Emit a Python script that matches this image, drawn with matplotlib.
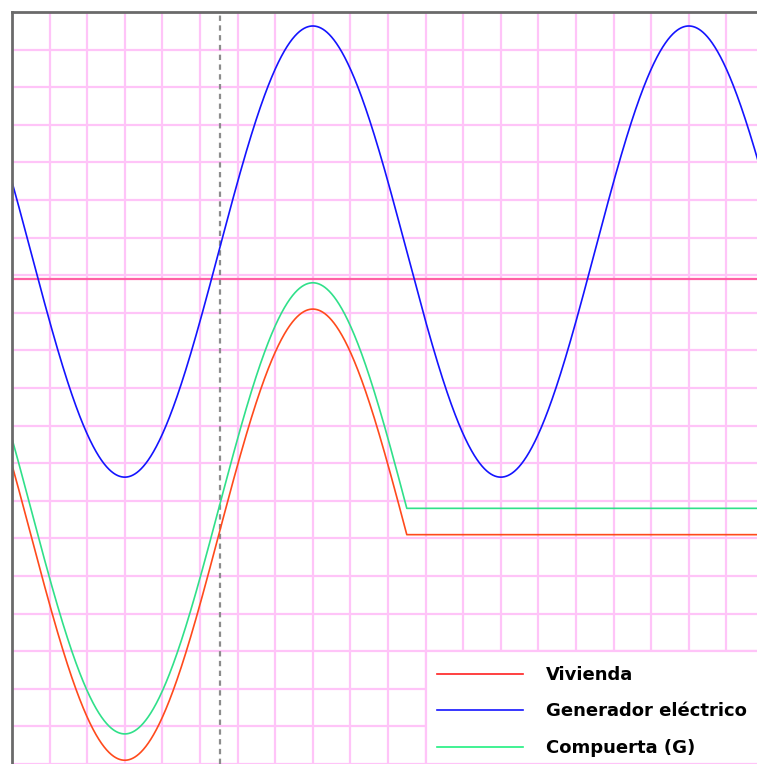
import numpy as np
import matplotlib.pyplot as plt
from matplotlib.patches import Rectangle
from matplotlib.lines import Line2D

# time base: 2 ms per division, 20 divisions
t_max_ms = 40
periodo_ms = 20.0          # 50 Hz
pico_ms = 16.0             # time of generator peak
corte_ms = 21.0            # gate/house signal held after this
cursor_ms = 11.05          # dashed cursor

# signals (vertical divisions)
series = ['Vivienda', 'Generador eléctrico', 'Compuerta (G)']
amplitudes = [6.0, 6.0, 6.0]
offsets = [-6.8, 0.73, -6.1]
held = [True, False, True]
colors = ['#ff4a1c', '#1414ff', '#30e08a']
legend_colors = ['#ff2020', '#1414ff', '#20f080']

y_bottom, y_top = -12.9, 7.11

W, H = 757, 764
fig = plt.figure(figsize=(W / 100, H / 100), dpi=100)
ax = fig.add_axes([12 / W, 0, 752 / W, 752.3 / H])

t = np.linspace(0, t_max_ms, 4001)
for amp, off, hold, col in zip(amplitudes, offsets, held, colors):
    y = off + amp * np.cos(2 * np.pi * (t - pico_ms) / periodo_ms)
    if hold:
        y = np.where(t > corte_ms, off, y)
    ax.plot(t, y, color=col, lw=1.2, zorder=3)

ax.set_xlim(0, t_max_ms)
ax.set_ylim(y_bottom, y_top)
ax.set_xticks(np.arange(0, t_max_ms + 1, 2))
ax.set_yticks(np.arange(y_bottom, y_top + 0.05, 1.0))
ax.tick_params(length=0, labelbottom=False, labelleft=False)
ax.grid(True, color='#ffc4f8', lw=1.6)
ax.set_axisbelow(True)

ax.axhline(0, color='#ff5fa5', lw=1.6, zorder=2)
ax.axvline(cursor_ms, color='#8c8c8c', lw=1.6, ls=(0, (2.4, 2.0)), zorder=2)

for side in ['bottom', 'right']:
    ax.spines[side].set_visible(False)
for side in ['top', 'left']:
    ax.spines[side].set_color('#6a6a6a')
    ax.spines[side].set_linewidth(2)
    ax.spines[side].set_zorder(5)

# legend panel
ax.add_patch(Rectangle((22, y_bottom), 18, 3.006, facecolor='white',
                       edgecolor='#ffc4f8', lw=1.6, zorder=4))
handles = [Line2D([], [], color=c, lw=1.2) for c in legend_colors]
leg = ax.legend(handles, series, loc='upper left', frameon=False,
                bbox_to_anchor=(437 / W, 1 - 666 / H), bbox_transform=fig.transFigure,
                prop={'family': 'DejaVu Sans', 'weight': 'bold', 'size': 13},
                handlelength=4.75, handletextpad=1.3, labelspacing=1.02,
                borderpad=0, borderaxespad=0)
leg.set_zorder(6)

fig.savefig('out.png', dpi=100)
